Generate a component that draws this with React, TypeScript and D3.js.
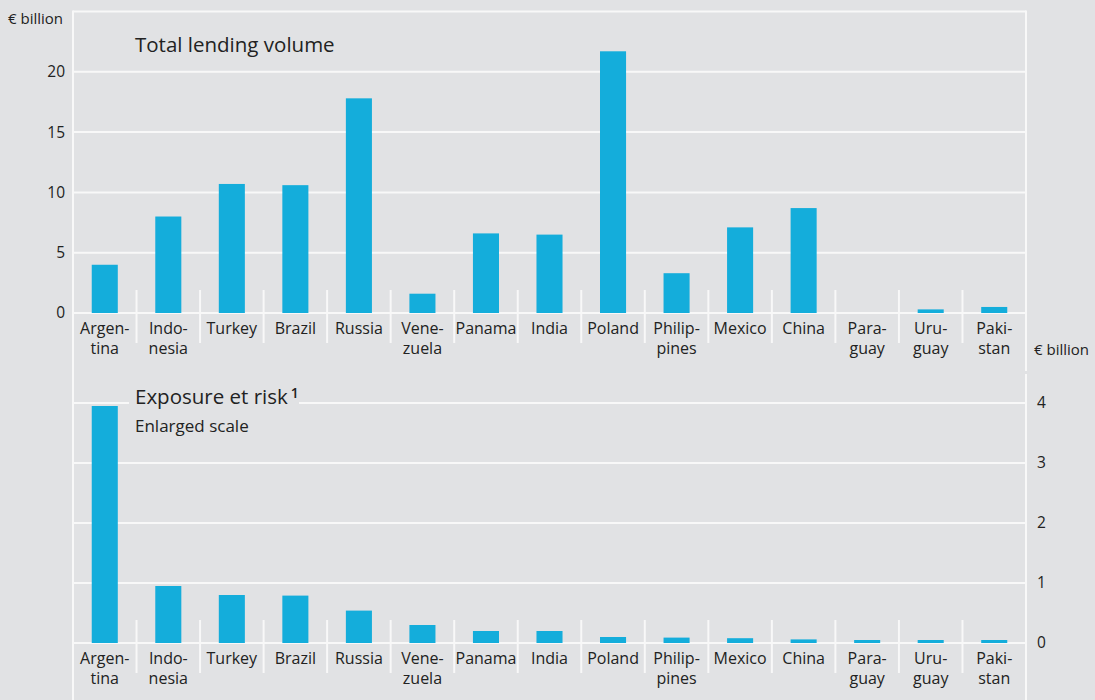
import React from "react";
import * as d3 from "d3";

const categories = [
  "Argentina", "Indonesia", "Turkey", "Brazil", "Russia", "Venezuela", "Panama",
  "India", "Poland", "Philippines", "Mexico", "China", "Paraguay", "Uruguay", "Pakistan",
];
const labelLines: string[][] = [
  ["Argen-", "tina"], ["Indo-", "nesia"], ["Turkey"], ["Brazil"], ["Russia"],
  ["Vene-", "zuela"], ["Panama"], ["India"], ["Poland"], ["Philip-", "pines"],
  ["Mexico"], ["China"], ["Para-", "guay"], ["Uru-", "guay"], ["Paki-", "stan"],
];
const totalLending = [4.0, 8.0, 10.7, 10.6, 17.8, 1.6, 6.6, 6.5, 21.7, 3.3, 7.1, 8.7, 0.0, 0.3, 0.5];
const exposureAtRisk = [3.95, 0.95, 0.8, 0.79, 0.54, 0.3, 0.2, 0.2, 0.1, 0.09, 0.08, 0.06, 0.05, 0.05, 0.05];
const topTicks = [0, 5, 10, 15, 20];
const topGrid = [5, 10, 15, 20, 25];
const bottomTicks = [0, 1, 2, 3, 4];

const W = 1095;
const H = 700;
const BG = "#e1e2e4";
const BAR = "#14addb";
const GRID = "#f8f8f8";
const TEXT = "#222222";
const FONT = "'Open Sans', 'Noto Sans', sans-serif";

export default function App() {
  const left = 73;
  const right = 1026;
  const x = d3.scaleBand<string>().domain(categories).range([left, right]).padding(0);
  const bw = x.bandwidth();
  const barW = bw * 0.41;

  const yTop = d3.scaleLinear().domain([0, 25]).range([313, 11.5]);
  const yBot = d3.scaleLinear().domain([0, 4]).range([643, 403]);

  const separators = (y0: number) =>
    categories.slice(1).map((c) => (
      <line key={"s" + c + y0} x1={x(c)!} x2={x(c)!} y1={y0 - 23} y2={y0 + 30} stroke={GRID} strokeWidth={2} />
    ));

  const labels = (y0: number) =>
    categories.map((c, i) => (
      <text key={"l" + c + y0} x={x(c)! + bw / 2} y={y0 + 21} textAnchor="middle" fontSize={16} fill={TEXT} fontFamily={FONT}>
        {labelLines[i].map((ln, j) => (
          <tspan key={j} x={x(c)! + bw / 2} dy={j === 0 ? 0 : 20}>{ln}</tspan>
        ))}
      </text>
    ));

  return (
    <svg width={W} height={H} style={{ position: "absolute", left: 0, top: 0, background: BG }} fontFamily={FONT}>
      <rect x={0} y={0} width={W} height={H} fill={BG} />
      {/* frame lines */}
      <line x1={left} x2={left} y1={10.5} y2={H} stroke={GRID} strokeWidth={2} />
      <line x1={right} x2={right} y1={10.5} y2={371} stroke={GRID} strokeWidth={2} />
      <line x1={right} x2={right} y1={374} y2={H} stroke={GRID} strokeWidth={2} />

      {/* top panel grid */}
      {topGrid.map((t) => (
        <line key={"tg" + t} x1={left} x2={right} y1={yTop(t)} y2={yTop(t)} stroke={GRID} strokeWidth={2} />
      ))}
      <line x1={left} x2={right} y1={yTop(0)} y2={yTop(0)} stroke={GRID} strokeWidth={2} />
      {separators(yTop(0))}
      {topTicks.map((t) => (
        <text key={"tt" + t} x={65} y={yTop(t)} dy="0.35em" textAnchor="end" fontSize={15.5} fill={TEXT}>{t}</text>
      ))}
      <text x={8} y={24} fontSize={15} fill={TEXT}>€ billion</text>
      <text x={135} y={52} fontSize={20.5} fill={TEXT}>Total lending volume</text>
      {categories.map((c, i) => (
        <rect key={"tb" + c} x={x(c)! + (bw - barW) / 2} y={yTop(totalLending[i])} width={barW}
          height={yTop(0) - yTop(totalLending[i])} fill={BAR} />
      ))}
      {labels(yTop(0))}

      {/* bottom panel grid */}
      {bottomTicks.map((t) => (
        <line key={"bg" + t} x1={left} x2={right} y1={yBot(t)} y2={yBot(t)} stroke={GRID} strokeWidth={2} />
      ))}
      <rect x={129} y={390} width={170} height={20} fill={BG} />
      {separators(yBot(0))}
      {bottomTicks.map((t) => (
        <text key={"bt" + t} x={1037} y={yBot(t)} dy="0.35em" textAnchor="start" fontSize={15.5} fill={TEXT}>{t}</text>
      ))}
      <text x={1034} y={355} fontSize={15} fill={TEXT}>€ billion</text>
      <text x={135} y={404} fontSize={20.5} fill={TEXT}>
        Exposure et risk<tspan fontSize={14} fontWeight={600} dy={-6} dx={3}>1</tspan>
      </text>
      <text x={135} y={432} fontSize={17} fill={TEXT}>Enlarged scale</text>
      {categories.map((c, i) => (
        <rect key={"bb" + c} x={x(c)! + (bw - barW) / 2} y={yBot(exposureAtRisk[i])} width={barW}
          height={yBot(0) - yBot(exposureAtRisk[i])} fill={BAR} />
      ))}
      {labels(yBot(0))}
    </svg>
  );
}
